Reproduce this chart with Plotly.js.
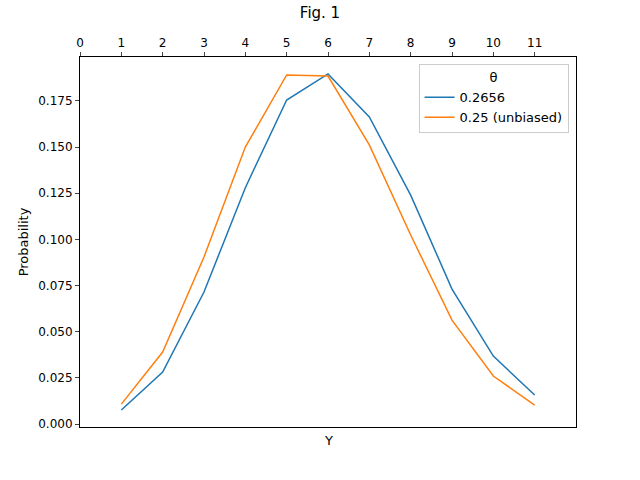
<!DOCTYPE html>
<html>
<head>
<meta charset="utf-8">
<script src="https://cdn.plot.ly/plotly-3.0.1.min.js"></script>
</head>
<body style="margin:0">
<div id="chart" style="width:640px;height:480px"></div>
<script>
const yValues = [1, 2, 3, 4, 5, 6, 7, 8, 9, 10, 11];
const probBiased = [0.0076, 0.0282, 0.0715, 0.128, 0.1755, 0.1896, 0.1663, 0.124, 0.0731, 0.0368, 0.0157];
const probUnbiased = [0.0108, 0.039, 0.0905, 0.150, 0.1891, 0.1885, 0.1512, 0.1024, 0.0563, 0.026, 0.0103];
const xTicks = [0, 1, 2, 3, 4, 5, 6, 7, 8, 9, 10, 11];

const data = [
    {x: yValues, y: probBiased, type: 'scatter', mode: 'lines', name: '0.2656',
     line: {color: '#1f77b4', width: 1.5}},
    {x: yValues, y: probUnbiased, type: 'scatter', mode: 'lines', name: '0.25 (unbiased)',
     line: {color: '#ff7f0e', width: 1.5}}
];

const layout = {
    width: 640,
    height: 480,
    font: {family: 'DejaVu Sans', size: 13, color: '#000'},
    title: {text: 'Fig. 1', font: {size: 15}, x: 0.5, xanchor: 'center', y: 0.985, yanchor: 'top'},
    margin: {l: 80, r: 64, t: 57, b: 53},
    paper_bgcolor: '#fff',
    plot_bgcolor: '#fff',
    showlegend: true,
    xaxis: {
        side: 'top', range: [0, 12], tickvals: xTicks, ticks: 'outside', ticklen: 4,
        showgrid: false, zeroline: false, showline: true, mirror: true, linecolor: '#000', linewidth: 1,
        tickfont: {size: 12}
    },
    yaxis: {
        range: [-0.0016, 0.1988], tickvals: [0, 0.025, 0.05, 0.075, 0.1, 0.125, 0.15, 0.175],
        tickformat: '.3f', ticks: 'outside', ticklen: 4,
        showgrid: false, zeroline: false, showline: true, mirror: true, linecolor: '#000', linewidth: 1,
        title: {text: 'Probability', font: {size: 13}, standoff: 6},
        tickfont: {size: 12}
    },
    legend: {
        title: {text: 'θ', side: 'top center', font: {size: 13}},
        x: 0.985, y: 0.98, xanchor: 'right', yanchor: 'top',
        bordercolor: '#ccc', borderwidth: 1, bgcolor: 'rgba(255,255,255,0.8)',
        font: {size: 13}
    },
    annotations: [{
        text: 'Y', xref: 'paper', yref: 'paper', x: 0.5, y: 0, yshift: -4,
        xanchor: 'center', yanchor: 'top', showarrow: false, font: {size: 13}
    }]
};

Plotly.newPlot('chart', data, layout, {displayModeBar: false});
</script>
</body>
</html>
